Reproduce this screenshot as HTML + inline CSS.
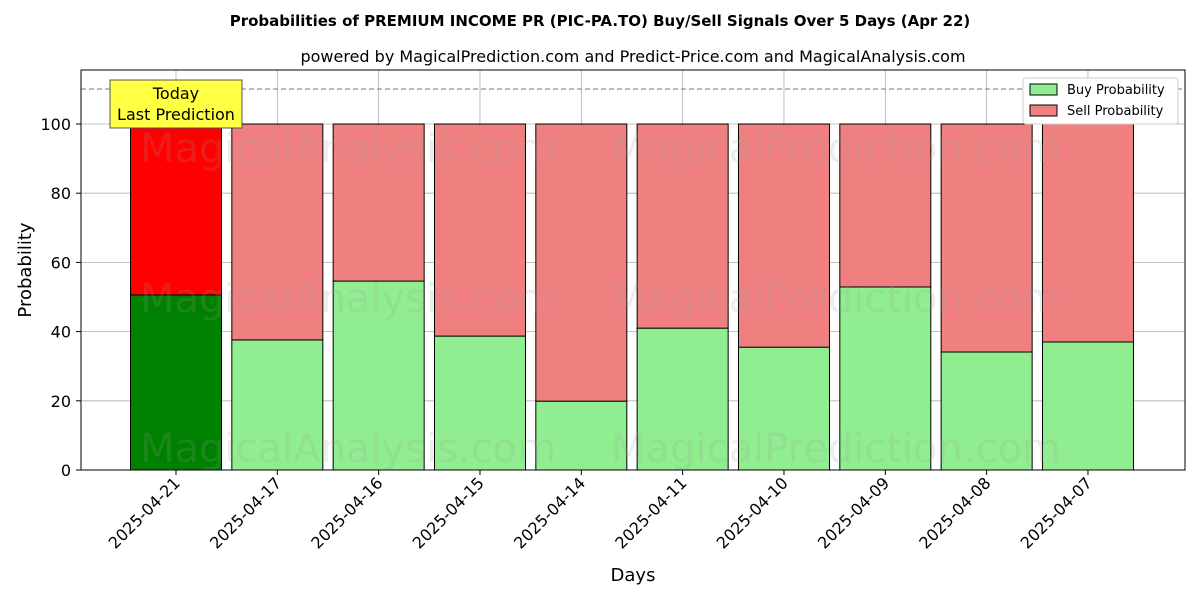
<!DOCTYPE html>
<html><head><meta charset="utf-8"><style>body{margin:0;background:#fff}svg{display:block;font-family:"DejaVu Sans","Liberation Sans",sans-serif}</style></head>
<body>
<svg id="chart" width="1200" height="600" viewBox="0 0 1200 600">
<text x="600" y="26" text-anchor="middle" font-size="15" font-weight="bold">Probabilities of PREMIUM INCOME PR (PIC-PA.TO) Buy/Sell Signals Over 5 Days (Apr 22)</text>
<text x="633" y="62" text-anchor="middle" font-size="16">powered by MagicalPrediction.com and Predict-Price.com and MagicalAnalysis.com</text>
<g id="grid"></g><g id="bars"></g>
<g fill="#999" fill-opacity="0.18" font-size="40">
<text x="348" y="162" text-anchor="middle">MagicalAnalysis.com</text><text x="836" y="162" text-anchor="middle">MagicalPrediction.com</text>
<text x="348" y="312" text-anchor="middle">MagicalAnalysis.com</text><text x="836" y="312" text-anchor="middle">MagicalPrediction.com</text>
<text x="348" y="462" text-anchor="middle">MagicalAnalysis.com</text><text x="836" y="462" text-anchor="middle">MagicalPrediction.com</text>
</g>
<line x1="81" x2="1185" y1="89" y2="89" stroke="#777" stroke-dasharray="5,3"/>
<rect x="81" y="70" width="1104" height="400" fill="none" stroke="#000"/>
<g id="axes"></g>
<g><rect x="110" y="80" width="132" height="48" fill="#ffff44" stroke="#555"/><text x="176" y="99" text-anchor="middle" font-size="16">Today</text><text x="176" y="120" text-anchor="middle" font-size="16">Last Prediction</text></g>
<g><rect x="1023" y="78" width="155" height="46" fill="#fff" stroke="#ccc" rx="3"/>
<rect x="1030" y="84" width="27" height="11" fill="#90ee90" stroke="#000"/><text x="1067" y="94" font-size="13">Buy Probability</text>
<rect x="1030" y="105" width="27" height="11" fill="#f08080" stroke="#000"/><text x="1067" y="115" font-size="13">Sell Probability</text></g>
<text x="633" y="581" text-anchor="middle" font-size="18">Days</text>
<text transform="translate(31,270) rotate(-90)" text-anchor="middle" font-size="18">Probability</text>
</svg>
<script>
const categories=["2025-04-21","2025-04-17","2025-04-16","2025-04-15","2025-04-14","2025-04-11","2025-04-10","2025-04-09","2025-04-08","2025-04-07"];
const buyValues=[50.6,37.6,54.6,38.7,19.9,41.0,35.5,52.9,34.1,37.0];
const yTicks=[0,20,40,60,80,100];
const NS="http://www.w3.org/2000/svg";
const y=v=>470-v*3.46, x=i=>176+101.33*i, bw=91;
function mk(t,a,p){const e=document.createElementNS(NS,t);for(const k in a)e.setAttribute(k,a[k]);p.appendChild(e);return e;}
const grid=document.getElementById('grid'),bars=document.getElementById('bars'),axes=document.getElementById('axes');
yTicks.forEach(v=>{const g=mk('line',{x1:81,x2:1185,y1:y(v),y2:y(v),stroke:'#b0b0b0','stroke-width':0.8},grid);


mk('line',{x1:76,x2:81,y1:y(v),y2:y(v),stroke:'#000'},axes);
const t=mk('text',{x:71,y:y(v)+6,'text-anchor':'end','font-size':16},axes);t.textContent=v;

});
categories.forEach((c,i)=>{const g=mk('line',{x1:x(i),x2:x(i),y1:70,y2:470,stroke:'#b0b0b0','stroke-width':0.8},grid);


const b=buyValues[i],f=i===0;
const r1=mk('rect',{x:x(i)-bw/2,y:y(b),width:bw,height:y(0)-y(b),fill:f?'#008000':'#90ee90',stroke:'#000'},bars);


const r2=mk('rect',{x:x(i)-bw/2,y:y(100),width:bw,height:y(b)-y(100),fill:f?'#ff0000':'#f08080',stroke:'#000'},bars);


mk('line',{x1:x(i),x2:x(i),y1:470,y2:475,stroke:'#000'},axes);
const t=mk('text',{'text-anchor':'end','font-size':16,transform:`translate(${x(i)+5},${484}) rotate(-45)`},axes);t.textContent=c;

});
</script>
</body></html>
